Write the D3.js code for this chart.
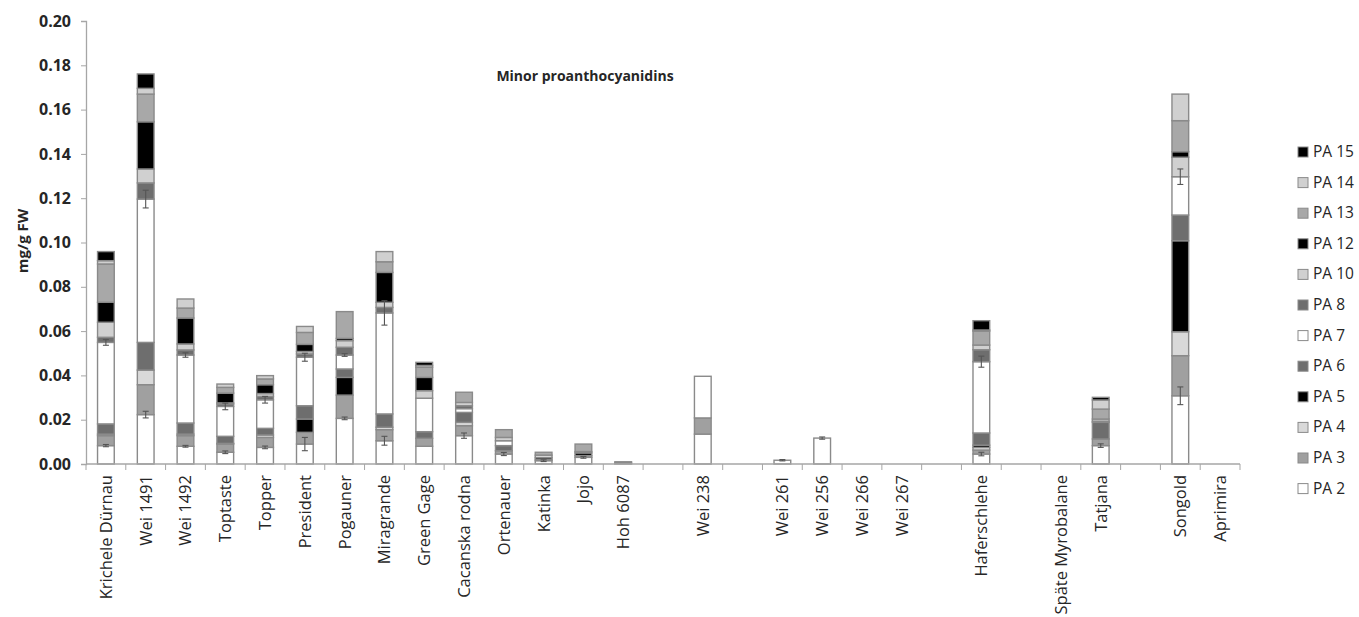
<!DOCTYPE html>
<html>
<head>
  <meta charset="utf-8">
  <style type="text/css">
    body { margin: 0; background: #fff; }
    text { font-family: "Open Sans", sans-serif; fill: #262626; }
  </style>
</head>
<body>
  <svg width="1359" height="617" id="chart"></svg>
  <script src="https://d3js.org/d3.v7.min.js"></script>
  <script>

// categories, blank strings are the empty slots of the original chart
const categories = ['Krichele Dürnau', 'Wei 1491', 'Wei 1492', 'Toptaste', 'Topper', 'President',
  'Pogauner', 'Miragrande', 'Green Gage', 'Cacanska rodna', 'Ortenauer', 'Katinka', 'Jojo',
  'Hoh 6087', '', 'Wei 238', '', 'Wei 261', 'Wei 256', 'Wei 266', 'Wei 267', '', 'Haferschlehe',
  '', 'Späte Myrobalane', 'Tatjana', '', 'Songold', 'Aprimira']

const seriesNames = ['PA 2', 'PA 3', 'PA 4', 'PA 5', 'PA 6', 'PA 7', 'PA 8', 'PA 10', 'PA 12', 'PA 13', 'PA 14', 'PA 15']

// mg/g FW, one value per category slot
const pa2  = [0.0083, 0.0223, 0.0080, 0.0053, 0.0075, 0.0090, 0.0206, 0.0105, 0.0080, 0.0128, 0.0045, 0.0015, 0.0030, 0, 0, 0.0135, 0, 0.0017, 0.0117, 0, 0, 0, 0.0045, 0, 0, 0.0083, 0, 0.0308, 0]
const pa3  = [0.0045, 0.0135, 0.0048, 0.0037, 0.0045, 0.0053, 0.0105, 0.0050, 0.0036, 0.0045, 0.0015, 0.0007, 0.0008, 0.0004, 0, 0.0073, 0, 0, 0, 0, 0, 0, 0.0018, 0, 0, 0.0030, 0, 0.0181, 0]
const pa4  = [0.0007, 0.0066, 0.0007, 0.0003, 0.0011, 0, 0, 0.0011, 0, 0.0015, 0, 0, 0, 0, 0, 0, 0, 0, 0, 0, 0, 0, 0.0012, 0, 0, 0, 0, 0.0108, 0]
const pa5  = [0, 0, 0, 0, 0, 0.0060, 0.0080, 0, 0, 0, 0, 0.0008, 0.0012, 0, 0, 0, 0, 0, 0, 0, 0, 0, 0.0010, 0, 0, 0, 0, 0.0411, 0]
const pa6  = [0.0046, 0.0125, 0.0050, 0.0032, 0.0030, 0.0060, 0.0038, 0.0060, 0.0030, 0.0045, 0.0023, 0, 0, 0.0006, 0, 0, 0, 0, 0, 0, 0, 0, 0.0055, 0, 0, 0.0075, 0, 0.0116, 0]
const pa7  = [0.0368, 0.0647, 0.0307, 0.0135, 0.0129, 0.0219, 0.0063, 0.0456, 0.0151, 0.0017, 0.0022, 0.0010, 0.0006, 0, 0, 0.0188, 0, 0, 0, 0, 0, 0, 0.0322, 0, 0, 0.0005, 0, 0.0173, 0]
const pa8  = [0.0023, 0.0073, 0.0023, 0.0011, 0.0015, 0.0015, 0.0035, 0.0025, 0, 0.0013, 0, 0, 0, 0, 0, 0, 0, 0, 0, 0, 0, 0, 0.0054, 0, 0, 0, 0, 0, 0]
const pa10 = [0.0068, 0.0063, 0.0027, 0.0005, 0.0013, 0.0011, 0.0030, 0.0023, 0.0034, 0.0015, 0.0015, 0, 0, 0, 0, 0, 0, 0, 0, 0, 0, 0, 0.0021, 0, 0, 0.0010, 0, 0.0088, 0]
const pa12 = [0.0090, 0.0213, 0.0117, 0.0044, 0.0040, 0.0032, 0.0010, 0.0135, 0.0060, 0, 0, 0, 0, 0, 0, 0, 0, 0, 0, 0, 0, 0, 0, 0, 0, 0, 0, 0.0025, 0]
const pa13 = [0.0173, 0.0125, 0.0045, 0.0026, 0.0026, 0.0054, 0.0121, 0.0048, 0.0046, 0.0046, 0.0035, 0.0013, 0.0034, 0, 0, 0, 0, 0, 0, 0, 0, 0, 0.0063, 0, 0, 0.0045, 0, 0.0140, 0]
const pa14 = [0.0015, 0.0026, 0.0041, 0.0015, 0.0015, 0.0027, 0, 0.0046, 0.0008, 0, 0, 0, 0, 0, 0, 0, 0, 0, 0, 0, 0, 0, 0.0005, 0, 0, 0.0041, 0, 0.0120, 0]
const pa15 = [0.0041, 0.0065, 0, 0, 0, 0, 0, 0, 0.0014, 0, 0, 0, 0, 0, 0, 0, 0, 0, 0, 0, 0, 0, 0.0042, 0, 0, 0.0012, 0, 0, 0]

// error bars (sd) drawn at the top of PA 2 and PA 7
const errPa2 = [0.0005, 0.0015, 0.0004, 0.0006, 0.0006, 0.0030, 0.0006, 0.0020, 0, 0.0012, 0.0007, 0.0004, 0.0004, 0, 0, 0, 0, 0.0003, 0.0005, 0, 0, 0, 0.0008, 0, 0, 0.0008, 0, 0.0040, 0]
const errPa7 = [0.0013, 0.0040, 0.0010, 0.0015, 0.0015, 0.0018, 0.0006, 0.0055, 0, 0, 0, 0, 0, 0, 0, 0, 0, 0, 0, 0, 0, 0, 0.0025, 0, 0, 0, 0, 0.0035, 0]

const yTicks = [0, 0.02, 0.04, 0.06, 0.08, 0.10, 0.12, 0.14, 0.16, 0.18, 0.20]
const colors = ['#ffffff', '#a0a0a0', '#d9d9d9', '#000000', '#6e6e6e', '#ffffff', '#6e6e6e', '#d0d0d0', '#000000', '#a8a8a8', '#d0d0d0', '#000000']

function translate(x, y) { return 'translate(' + x + ',' + y + ')'; }

const columns = [pa2, pa3, pa4, pa5, pa6, pa7, pa8, pa10, pa12, pa13, pa14, pa15]
let rows = categories.map((c, i) => {
  let row = { idx: i }
  seriesNames.forEach((s, k) => { row[s] = columns[k][i] })
  return row
})

let svg = d3.select('#chart')
let plotLeft = 86, plotRight = 1240, plotTop = 21, plotBottom = 464

let x = d3.scaleBand().domain(d3.range(categories.length)).range([plotLeft, plotRight])
  .paddingInner(0.58).paddingOuter(0.29)
let slot = d3.scaleLinear().domain([0, categories.length]).range([plotLeft, plotRight])
let y = d3.scaleLinear().domain([0, 0.2]).range([plotBottom, plotTop])

let stacked = d3.stack().keys(seriesNames)(rows)

// bars
let layers = svg.append('g').selectAll('g')
  .data(stacked)
  .join('g')
    .attr('fill', (d, k) => colors[k])

layers.selectAll('rect')
  .data(d => d.filter(s => s[1] - s[0] > 0))
  .join('rect')
    .attr('x', d => x(d.data.idx))
    .attr('width', x.bandwidth())
    .attr('y', d => y(d[1]))
    .attr('height', d => y(d[0]) - y(d[1]))
    .attr('stroke', '#8a8a8a')
    .attr('stroke-width', 1.4)

// error bars
let errs = []
rows.forEach((r, i) => {
  if (errPa2[i] > 0) errs.push({ i: i, v: stacked[0][i][1], e: errPa2[i] })
  if (errPa7[i] > 0) errs.push({ i: i, v: stacked[5][i][1], e: errPa7[i] })
})
let eg = svg.append('g').attr('stroke', '#555').attr('stroke-width', 1.1).attr('fill', 'none')
errs.forEach(d => {
  let cx = x(d.i) + x.bandwidth() / 2
  eg.append('line').attr('x1', cx).attr('x2', cx).attr('y1', y(d.v - d.e)).attr('y2', y(d.v + d.e))
  eg.append('line').attr('x1', cx - 3).attr('x2', cx + 3).attr('y1', y(d.v - d.e)).attr('y2', y(d.v - d.e))
  eg.append('line').attr('x1', cx - 3).attr('x2', cx + 3).attr('y1', y(d.v + d.e)).attr('y2', y(d.v + d.e))
})

// y axis
let yAxis = svg.append('g')
  .attr('transform', translate(plotLeft, 0))
  .call(d3.axisLeft(y).tickValues(yTicks).tickFormat(d3.format('.2f')).tickSize(5).tickPadding(10))
yAxis.select('.domain').attr('stroke', '#a6a6a6').attr('stroke-width', 1.3)
yAxis.selectAll('.tick line').attr('stroke', '#a6a6a6')
yAxis.selectAll('.tick text')
  .style('font-family', '"Open Sans", sans-serif')
  .style('font-size', '16px').style('font-weight', 'bold').attr('fill', '#333')

// x axis line and slot ticks
let xg = svg.append('g').attr('stroke', '#a6a6a6')
xg.append('line').attr('x1', plotLeft).attr('x2', plotRight).attr('y1', plotBottom).attr('y2', plotBottom).attr('stroke-width', 1.3)
xg.selectAll('line.tk')
  .data(d3.range(categories.length + 1))
  .join('line')
    .attr('class', 'tk')
    .attr('x1', d => slot(d)).attr('x2', d => slot(d))
    .attr('y1', plotBottom).attr('y2', plotBottom + 6)

svg.append('g').selectAll('text')
  .data(categories.map((c, i) => ({ c: c, i: i })).filter(d => d.c))
  .join('text')
    .attr('transform', d => translate(x(d.i) + x.bandwidth() / 2 + 6, plotBottom + 11) + ' rotate(-90)')
    .attr('text-anchor', 'end')
    .style('font-size', '16.5px')
    .text(d => d.c)

// y label and title
svg.append('text')
  .attr('transform', translate(28, 241) + ' rotate(-90)')
  .attr('text-anchor', 'middle')
  .style('font-size', '15px').style('font-weight', 'bold')
  .text('mg/g FW')

svg.append('text')
  .attr('x', 585).attr('y', 81)
  .attr('text-anchor', 'middle')
  .style('font-size', '14px').style('font-weight', 'bold')
  .text('Minor proanthocyanidins')

// legend, PA 15 on top
let legend = svg.append('g').selectAll('g')
  .data(seriesNames.map((s, k) => ({ s: s, k: k })).reverse())
  .join('g')
    .attr('transform', (d, j) => translate(1298, 147 + j * 30.6))
legend.append('rect')
  .attr('width', 10).attr('height', 10)
  .attr('fill', d => colors[d.k])
  .attr('stroke', '#8a8a8a').attr('stroke-width', 1)
legend.append('text')
  .attr('x', 15).attr('y', 10)
  .style('font-size', '15.5px')
  .text(d => d.s)

  </script>
</body>
</html>
